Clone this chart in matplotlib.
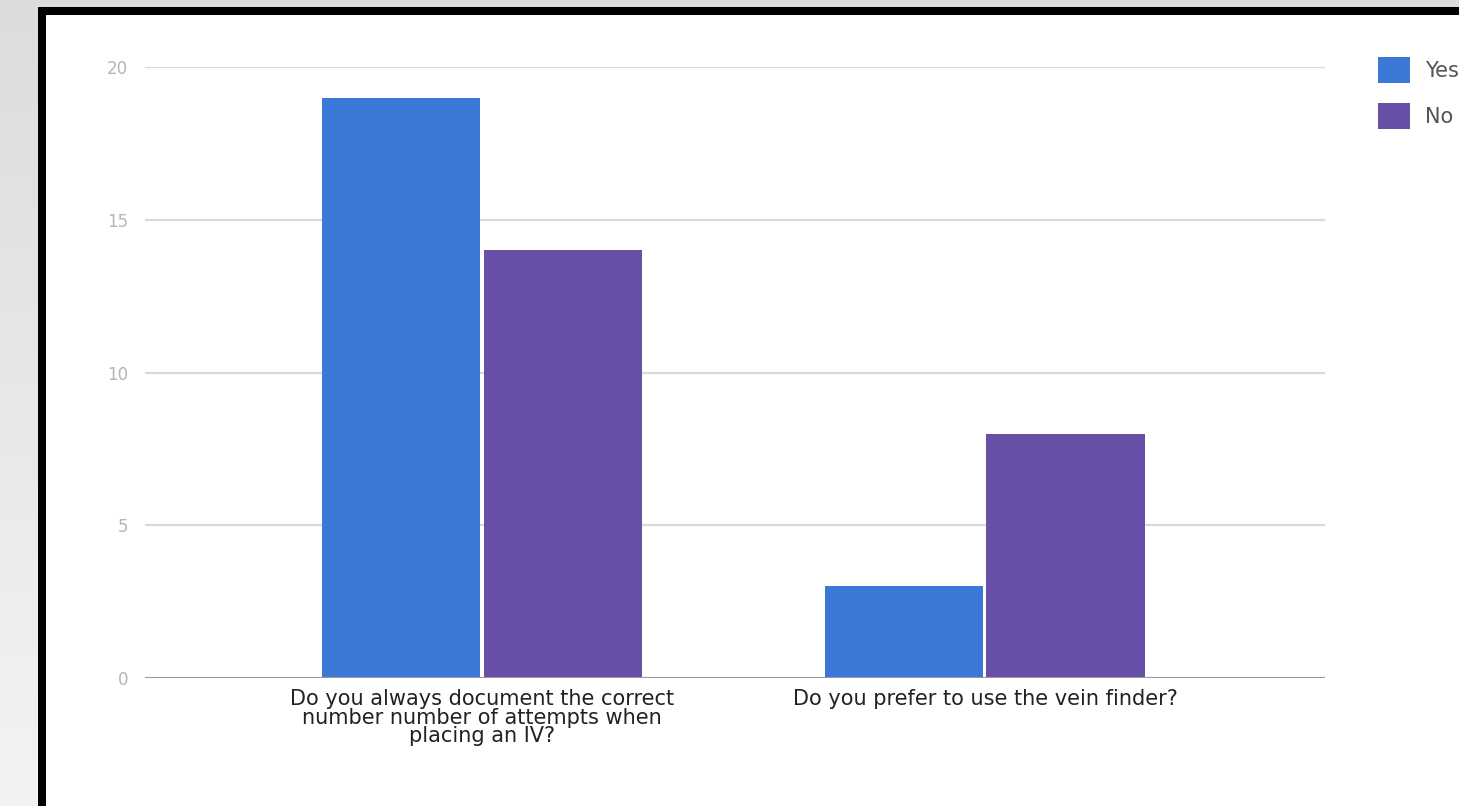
import matplotlib.pyplot as plt
import matplotlib.patches as mpatches
import numpy as np

plt.rcParams['font.family'] = ['DejaVu Sans']

# data
questions = ["Do you always document the correct\nnumber number of attempts when\nplacing an IV?",
             "Do you prefer to use the vein finder?"]
series_names = ["Yes", "No"]
yes_vals = [19, 3]
no_vals = [14, 8]
colors = ["#3c78d8", "#674ea7"]
yticks = [0, 5, 10, 15, 20]

W, H = 1459, 806
fig = plt.figure(figsize=(W / 100, H / 100), dpi=100)

# screenshot background: gray gradient, black frame, white card
bg = fig.add_axes([0, 0, 1, 1], zorder=-10)
grad = np.linspace(0.86, 0.95, 100).reshape(-1, 1)
bg.imshow(grad, cmap='gray', vmin=0, vmax=1, aspect='auto', extent=[0, 1, 0, 1], origin='upper')
bg.set_xlim(0, 1)
bg.set_ylim(0, 1)
bg.axis('off')
bg.add_patch(mpatches.Rectangle((38 / W, 0), 1, (H - 7) / H, facecolor='black', edgecolor='none'))
bg.add_patch(mpatches.Rectangle((46 / W, 0), 1, (H - 15) / H, facecolor='white', edgecolor='none'))

ax = fig.add_axes([145 / W, (H - 678) / H, 1180 / W, (678 - 67) / H])
ax.set_facecolor('none')

x = np.arange(len(questions))
bw = 0.316
gap = 0.003
ax.bar(x - bw / 2 - gap, yes_vals, bw, color=colors[0], label=series_names[0], zorder=3)
ax.bar(x + bw / 2 + gap, no_vals, bw, color=colors[1], label=series_names[1], zorder=3)

ax.set_xlim(-0.670, 1.676)
ax.set_ylim(0, 20)
ax.set_yticks(yticks)
for t in yticks[1:]:
    ax.axhline(t, color='#d9d9d9', lw=1.6, zorder=1)
ax.axhline(0, color='#999999', lw=2.2, zorder=4)

for s in ax.spines.values():
    s.set_visible(False)
ax.tick_params(axis='y', length=0, pad=12, labelsize=12, labelcolor='#b5b5b5')
ax.tick_params(axis='x', length=0, pad=8, labelsize=15, labelcolor='#222222')
ax.set_xticks(x)
ax.set_xticklabels(questions, linespacing=0.9)

leg = ax.legend(loc='upper left', bbox_to_anchor=(1378 / W, (H - 57) / H),
                bbox_transform=fig.transFigure, frameon=False, fontsize=15,
                handlelength=1.54, handleheight=1.56, labelspacing=0.94,
                handletextpad=0.7, borderaxespad=0, borderpad=0)
for t in leg.get_texts():
    t.set_color('#555555')

fig.savefig('out.png', dpi=100)
